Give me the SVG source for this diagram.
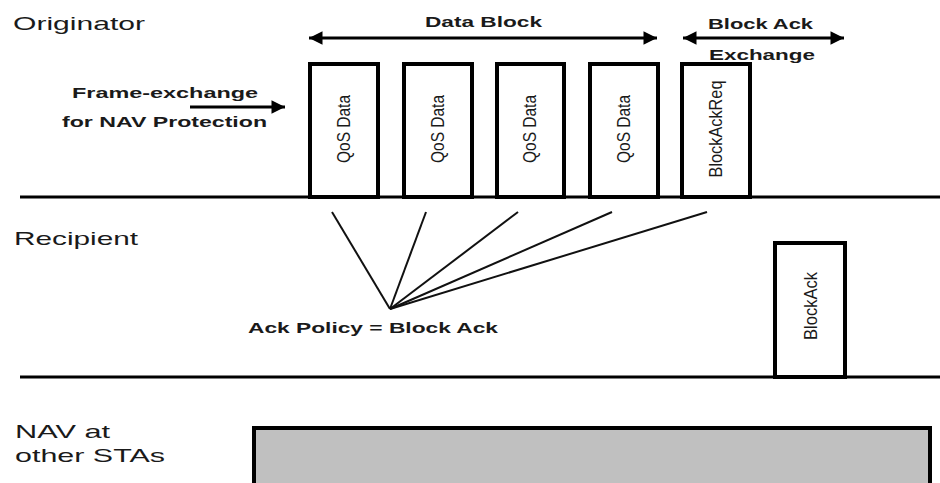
<svg xmlns="http://www.w3.org/2000/svg" width="940" height="483" viewBox="0 0 940 483">
<style>
text{font-family:"Liberation Sans",Arial,sans-serif;fill:#1a1a1a}
.lbl{font-size:19px}
.sm{font-size:15px;font-weight:bold}
.box{fill:#fff;stroke:#000;stroke-width:4}
.bt{font-size:18px;text-anchor:middle;dominant-baseline:central}
.tl{stroke:#000;stroke-width:3;fill:none}
.fan{stroke:#111;stroke-width:2;fill:none}
.arr{stroke:#000;stroke-width:3;fill:none}
</style>
<defs>
<marker id="ah" viewBox="0 0 10 10" refX="10" refY="5" markerWidth="5.5" markerHeight="4.5" markerUnits="strokeWidth" orient="auto-start-reverse">
<path d="M0,0 L10,5 L0,10 z" fill="#000"/>
</marker>
</defs>

<g id="timelines">
<line class="tl" x1="20" y1="197" x2="940" y2="197"/>
<line class="tl" x1="20" y1="377" x2="940" y2="377"/>
</g>

<g id="labels">
<text class="lbl" x="13" y="30" textLength="132" lengthAdjust="spacingAndGlyphs">Originator</text>
<text class="lbl" x="14" y="245" textLength="124" lengthAdjust="spacingAndGlyphs">Recipient</text>
<text class="lbl" x="15" y="438" textLength="95" lengthAdjust="spacingAndGlyphs">NAV at</text>
<text class="lbl" x="15" y="462" textLength="150" lengthAdjust="spacingAndGlyphs">other STAs</text>
<text class="sm" x="72" y="98" textLength="186" lengthAdjust="spacingAndGlyphs">Frame-exchange</text>
<text class="sm" x="62" y="127" textLength="205" lengthAdjust="spacingAndGlyphs">for NAV Protection</text>
<text class="sm" x="425" y="27" textLength="117" lengthAdjust="spacingAndGlyphs">Data Block</text>
<text class="sm" x="708" y="29" textLength="105" lengthAdjust="spacingAndGlyphs">Block Ack</text>
<text class="sm" x="709" y="60" textLength="106" lengthAdjust="spacingAndGlyphs">Exchange</text>
<text class="sm" x="248" y="333" textLength="250" lengthAdjust="spacingAndGlyphs">Ack Policy = Block Ack</text>
</g>

<g id="connectors">
<line class="arr" x1="190" y1="107" x2="285" y2="107" marker-end="url(#ah)"/>
<line class="arr" x1="309" y1="38" x2="657" y2="38" marker-start="url(#ah)" marker-end="url(#ah)"/>
<line class="arr" x1="683" y1="38" x2="844" y2="38" marker-start="url(#ah)" marker-end="url(#ah)"/>
<line class="fan" x1="332" y1="212" x2="390" y2="309"/>
<line class="fan" x1="426" y1="212" x2="390" y2="309"/>
<line class="fan" x1="518" y1="212" x2="390" y2="309"/>
<line class="fan" x1="612" y1="212" x2="390" y2="309"/>
<line class="fan" x1="707" y1="212" x2="390" y2="309"/>
</g>

<g id="qos1"><rect class="box" x="310" y="64" width="68" height="133"/><text class="bt" transform="translate(344,129) rotate(-90)" textLength="68" lengthAdjust="spacingAndGlyphs">QoS Data</text></g>
<g id="qos2"><rect class="box" x="404" y="64" width="68" height="133"/><text class="bt" transform="translate(438,129) rotate(-90)" textLength="68" lengthAdjust="spacingAndGlyphs">QoS Data</text></g>
<g id="qos3"><rect class="box" x="497" y="64" width="67" height="133"/><text class="bt" transform="translate(530,129) rotate(-90)" textLength="68" lengthAdjust="spacingAndGlyphs">QoS Data</text></g>
<g id="qos4"><rect class="box" x="590" y="64" width="68" height="133"/><text class="bt" transform="translate(624,129) rotate(-90)" textLength="68" lengthAdjust="spacingAndGlyphs">QoS Data</text></g>
<g id="bar"><rect class="box" x="682" y="64" width="68" height="133"/><text class="bt" transform="translate(716,129) rotate(-90)" textLength="97" lengthAdjust="spacingAndGlyphs">BlockAckReq</text></g>
<g id="blockack"><rect class="box" x="775" y="243" width="70" height="134"/><text class="bt" transform="translate(811,306) rotate(-90)" textLength="68" lengthAdjust="spacingAndGlyphs">BlockAck</text></g>
<g id="nav"><rect x="254" y="428" width="676" height="70" fill="#c0c0c0" stroke="#000" stroke-width="4"/></g>
</svg>
